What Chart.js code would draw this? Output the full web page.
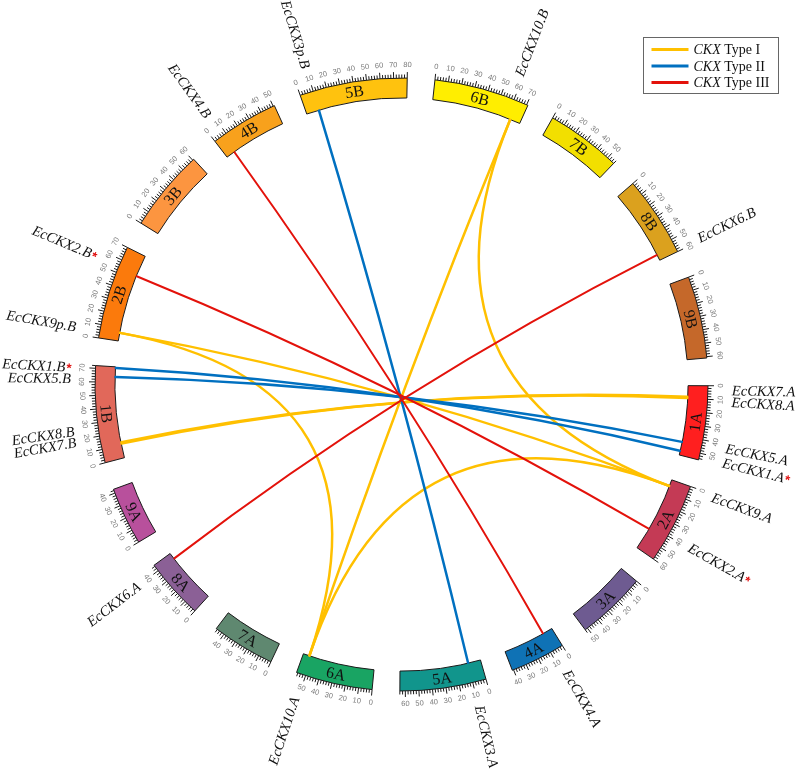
<!DOCTYPE html>
<html>
<head>
<meta charset="utf-8">
<title>CKX circos</title>
<script src="https://cdn.jsdelivr.net/npm/chart.js@4.4.0/dist/chart.umd.min.js"></script>
<style>
  html, body { margin: 0; padding: 0; background: #fff; }
  #wrap { width: 796px; height: 771px; }
</style>
</head>
<body>
<div id="wrap"><canvas id="circos" width="796" height="771"></canvas></div>
<script>
// Chromosomes, clockwise from 1B (lengths in Mb)
const chromosomes = ['1B', '2B', '3B', '4B', '5B', '6B', '7B', '8B', '9B',
                     '1A', '2A', '3A', '4A', '5A', '6A', '7A', '8A', '9A'];
const chromLengths = [72, 70, 61, 51, 80, 71, 56, 60, 61,
                      55, 60, 52, 41, 64, 57, 47, 45, 43];
const chromColors = ['#E1685A', '#FB7A0C', '#FC9540', '#F8A11C', '#FFC20E', '#FFEE00', '#F2DF00', '#DBA11E', '#C5682A',
                     '#FF1F1F', '#C43A55', '#6E5B91', '#0F72B5', '#11958C', '#19A463', '#5F8870', '#8B6096', '#B8509C'];
const gapSize = 20.4;

// Gene labels (position in Mb where the label sits)
const geneNames = ['EcCKX3p.B', 'EcCKX10.B', 'EcCKX4.B', 'EcCKX2.B', 'EcCKX9p.B', 'EcCKX1.B', 'EcCKX5.B',
                   'EcCKX8.B', 'EcCKX7.B', 'EcCKX6.B', 'EcCKX7.A', 'EcCKX8.A', 'EcCKX5.A', 'EcCKX1.A',
                   'EcCKX9.A', 'EcCKX2.A', 'EcCKX4.A', 'EcCKX3.A', 'EcCKX10.A', 'EcCKX6.A'];
const geneChroms = ['5B', '6B', '4B', '2B', '2B', '1B', '1B', '1B', '1B', '8B',
                    '1A', '1A', '1A', '1A', '2A', '2A', '4A', '5A', '6A', '8A'];
const genePos = [9.2, 57.9, 6.2, 54.7, 4.5, 69.4, 61.6, 25.5, 18, 58.8,
                 3.8, 11.8, 43.5, 53.5, 2.5, 39.8, 7.3, 10, 51.5, 39.6];
const geneStarred = [false, false, false, true, false, true, false, false, false, false,
                     false, false, false, true, false, true, false, false, false, false];

// Links between genes (type 0 = Type I, 1 = Type II, 2 = Type III)
const linkChromA = ['2B', '2B', '6B', '6B', '6A', '1B', '1B', '5B', '1B', '1B', '4B', '2B', '8B'];
const linkPosA   = [6.5, 6.5, 63, 63, 52, 11.4, 12.4, 10, 71, 64, 7, 53, 55.3];
const linkChromB = ['2A', '6A', '6A', '2A', '2A', '1A', '1A', '5A', '1A', '1A', '4A', '2A', '8A'];
const linkPosB   = [5.2, 52, 52, 5.2, 5.2, 8.8, 9.8, 10, 51.6, 44.5, 8, 42.5, 40];
const linkType   = [0, 0, 0, 0, 0, 0, 0, 1, 1, 1, 2, 2, 2];

const typeNames = ['Type I', 'Type II', 'Type III'];
const typeColors = ['#FFC000', '#0070C0', '#E3120B'];

// Interleave chromosomes with empty gap slices for the doughnut
const sliceValues = [];
const sliceColors = [];
const sliceBorders = [];
chromosomes.forEach((c, i) => {
    sliceValues.push(chromLengths[i], gapSize);
    sliceColors.push(chromColors[i], 'rgba(0,0,0,0)');
    sliceBorders.push(1, 0);
});

function flipRotation(a) {
    // keep tangential text upright
    return Math.sin(a) > 0 ? a - Math.PI / 2 : a + Math.PI / 2;
}

const serif = '"Liberation Serif", "Times New Roman", serif';

const circosPlugin = {
    id: 'circos',
    afterDatasetsDraw(chart) {
        const ctx = chart.ctx;
        const arcs = chart.getDatasetMeta(0).data;
        const cx = arcs[0].x;
        const cy = arcs[0].y;
        const inner = arcs[0].innerRadius;
        const outer = arcs[0].outerRadius;

        const angleAt = (name, pos) => {
            const i = chromosomes.indexOf(name);
            const arc = arcs[2 * i];
            return arc.startAngle + (arc.endAngle - arc.startAngle) * pos / chromLengths[i];
        };

        // Links
        ctx.save();
        ctx.lineCap = 'round';
        for (let k = 0; k < linkType.length; k++) {
            const a1 = angleAt(linkChromA[k], linkPosA[k]);
            const a2 = angleAt(linkChromB[k], linkPosB[k]);
            const r = inner - 0.5;
            ctx.beginPath();
            ctx.moveTo(cx + r * Math.cos(a1), cy + r * Math.sin(a1));
            ctx.quadraticCurveTo(cx, cy, cx + r * Math.cos(a2), cy + r * Math.sin(a2));
            ctx.strokeStyle = typeColors[linkType[k]];
            ctx.lineWidth = linkType[k] === 2 ? 2 : 2.5;
            ctx.stroke();
        }
        ctx.restore();

        // Ticks, tick labels, chromosome names
        chromosomes.forEach((name, i) => {
            const len = chromLengths[i];
            ctx.save();
            ctx.strokeStyle = '#1a1a1a';
            ctx.lineWidth = 1;
            for (let p = 0; p <= len; p += 2) {
                const a = angleAt(name, p);
                const L = p % 10 === 0 ? 6 : 3.5;
                ctx.beginPath();
                ctx.moveTo(cx + outer * Math.cos(a), cy + outer * Math.sin(a));
                ctx.lineTo(cx + (outer + L) * Math.cos(a), cy + (outer + L) * Math.sin(a));
                ctx.stroke();
            }
            ctx.fillStyle = '#7a7a7a';
            ctx.font = '7.5px "Liberation Sans", Arial, sans-serif';
            ctx.textAlign = 'center';
            ctx.textBaseline = 'middle';
            for (let p = 0; p <= len; p += 10) {
                const a = angleAt(name, p);
                const r = outer + 13;
                ctx.save();
                ctx.translate(cx + r * Math.cos(a), cy + r * Math.sin(a));
                ctx.rotate(flipRotation(a));
                ctx.fillText(String(p), 0, 0);
                ctx.restore();
            }
            const am = angleAt(name, len / 2);
            const rm = (inner + outer) / 2;
            ctx.translate(cx + rm * Math.cos(am), cy + rm * Math.sin(am));
            ctx.rotate(flipRotation(am));
            ctx.fillStyle = '#111';
            ctx.font = '16px ' + serif;
            ctx.fillText(name, 0, 1);
            ctx.restore();
        });

        // Gene labels
        const labelR = outer + 24;
        geneNames.forEach((g, k) => {
            const a = angleAt(geneChroms[k], genePos[k]);
            const right = Math.cos(a) >= 0;
            ctx.save();
            ctx.translate(cx + labelR * Math.cos(a), cy + labelR * Math.sin(a));
            ctx.rotate(right ? a : a + Math.PI);
            ctx.textBaseline = 'middle';
            ctx.textAlign = 'left';
            ctx.font = 'italic 14.5px ' + serif;
            const gw = ctx.measureText(g).width;
            ctx.font = 'bold 13px "Liberation Sans", Arial, sans-serif';
            const sw = geneStarred[k] ? ctx.measureText('*').width + 1 : 0;
            const x0 = right ? 0 : -(gw + sw);
            ctx.fillStyle = '#111';
            ctx.font = 'italic 14.5px ' + serif;
            ctx.fillText(g, x0, 0);
            if (geneStarred[k]) {
                ctx.fillStyle = '#E01010';
                ctx.font = 'bold 13px "Liberation Sans", Arial, sans-serif';
                ctx.fillText('*', x0 + gw + 1, 1);
            }
            ctx.restore();
        });
    },
    afterDraw(chart) {
        // Legend box
        const ctx = chart.ctx;
        const bx = 643.5, by = 37.5, bw = 135, bh = 56;
        ctx.save();
        ctx.fillStyle = '#fff';
        ctx.fillRect(bx, by, bw, bh);
        ctx.strokeStyle = '#666';
        ctx.lineWidth = 1;
        ctx.strokeRect(bx, by, bw, bh);
        typeNames.forEach((t, i) => {
            const y = by + 12 + i * 16.5;
            ctx.beginPath();
            ctx.moveTo(bx + 8, y);
            ctx.lineTo(bx + 45, y);
            ctx.strokeStyle = typeColors[i];
            ctx.lineWidth = 3;
            ctx.stroke();
            ctx.fillStyle = '#111';
            ctx.textBaseline = 'middle';
            ctx.textAlign = 'left';
            ctx.font = 'italic 14px ' + serif;
            ctx.fillText('CKX', bx + 50, y + 1);
            const w = ctx.measureText('CKX ').width;
            ctx.font = '14px ' + serif;
            ctx.fillText(t, bx + 50 + w, y + 1);
        });
        ctx.restore();
    }
};

new Chart(document.getElementById('circos').getContext('2d'), {
    type: 'doughnut',
    data: {
        labels: sliceValues.map((v, i) => i % 2 === 0 ? chromosomes[i / 2] : ''),
        datasets: [{
            data: sliceValues,
            backgroundColor: sliceColors,
            borderColor: '#1a1a1a',
            borderWidth: sliceBorders,
            hoverOffset: 0
        }]
    },
    options: {
        responsive: false,
        animation: false,
        events: [],
        rotation: 255.2,
        cutout: '93.5%',
        layout: {
            padding: { left: 94.5, right: 87.5, top: 77.5, bottom: 79.5 }
        },
        plugins: {
            legend: { display: false },
            tooltip: { enabled: false }
        }
    },
    plugins: [circosPlugin]
});
</script>
</body>
</html>
